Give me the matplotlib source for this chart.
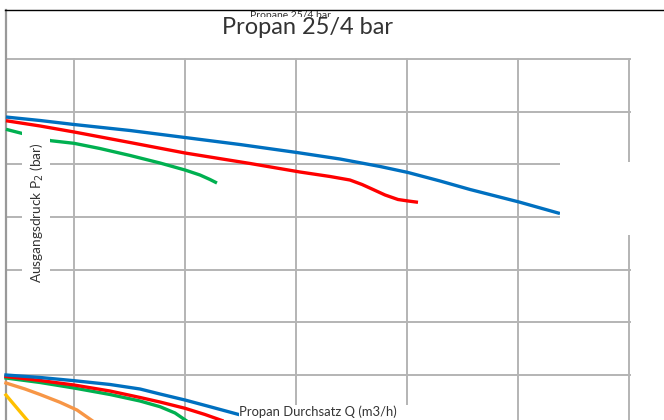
import matplotlib.pyplot as plt
from matplotlib.patches import Rectangle

# Propan 25/4 bar - Ausgangsdruck vs. Durchsatz
# upper curve group (Q in m3/h, P2 in bar)
q_blue = [0.387, 0.694, 1.0, 1.505, 2.0, 2.495, 3.009, 3.396, 3.757, 4.009,
          4.297, 4.568, 5.009, 5.378]
p_blue = [5.898, 5.832, 5.756, 5.642, 5.509, 5.376, 5.224, 5.101, 4.959, 4.845,
          4.684, 4.522, 4.285, 4.066]

q_red = [0.387, 0.694, 1.0, 1.505, 2.0, 2.586, 3.036, 3.306, 3.486, 3.595,
         3.685, 3.802, 3.919, 4.009, 4.099]
p_red = [5.828, 5.728, 5.614, 5.414, 5.215, 5.016, 4.854, 4.769, 4.702, 4.617,
         4.531, 4.418, 4.332, 4.304, 4.279]

q_green = [0.387, 0.613, 0.793, 1.0, 1.234, 1.505, 1.775, 2.0, 2.135, 2.225, 2.288]
p_green = [5.665, 5.543, 5.448, 5.399, 5.300, 5.168, 5.025, 4.892, 4.797, 4.712, 4.645]

# lower curve group
q_blue2 = [0.387, 0.694, 1.0, 1.324, 1.595, 1.775, 2.0, 2.225, 2.477]
p_blue2 = [1.0, 0.953, 0.892, 0.820, 0.734, 0.639, 0.525, 0.398, 0.254]

q_red2 = [0.387, 0.694, 1.0, 1.324, 1.595, 1.775, 2.0, 2.180, 2.333]
p_red2 = [0.972, 0.896, 0.810, 0.696, 0.573, 0.487, 0.368, 0.250, 0.136]

q_green2 = [0.387, 0.694, 1.0, 1.324, 1.595, 1.775, 1.910, 2.009]
p_green2 = [0.943, 0.858, 0.753, 0.630, 0.506, 0.398, 0.279, 0.136]

q_orange = [0.387, 0.559, 0.694, 0.874, 1.027, 1.162]
p_orange = [0.848, 0.734, 0.630, 0.482, 0.335, 0.136]

q_yellow = [0.387, 0.577]
p_yellow = [0.620, 0.146]

x_grid = [1, 2, 3, 4, 5, 6]
y_grid = [1, 2, 3, 4, 5, 6, 7]

title = "Propan 25/4 bar"
old_title = "Propane 25/4 bar"
xlabel = "Propan Durchsatz Q (m3/h)"
ylabel = "Ausgangsdruck P$_2$ (bar)"


# pixel -> data helpers (layout only)
def qx(px):
    return (px + 37) / 111.0


def py(pyv):
    return 1 + (375 - pyv) / 52.67


fig = plt.figure(figsize=(6.64, 4.2), dpi=100)
ax = fig.add_axes([0, 0, 1, 1])
ax.set_xlim(qx(0), qx(664))
ax.set_ylim(py(420), py(0))
ax.axis("off")

grid_c = "#b4b4b4"
for g in x_grid:
    ax.plot([g, g], [py(59), py(420)], color=grid_c, lw=1.4, zorder=1)
for g in y_grid:
    ax.plot([qx(6), qx(630)], [g, g], color=grid_c, lw=1.4, zorder=1)

# frame lines
ax.plot([qx(6), qx(6)], [py(10), py(420)], color="#999999", lw=1.6, zorder=2)
ax.plot([qx(5), qx(663)], [py(10), py(10)], color="black", lw=1.0, zorder=7)

# curves
lw = 2.4
ax.plot(q_blue, p_blue, color="#0070c0", lw=lw, zorder=3, solid_capstyle="butt")
ax.plot(q_red, p_red, color="#ff0000", lw=lw, zorder=3, solid_capstyle="butt")
ax.plot(q_green, p_green, color="#00b050", lw=lw, zorder=3, solid_capstyle="butt")
ax.plot(q_yellow, p_yellow, color="#ffc000", lw=lw, zorder=3)
ax.plot(q_orange, p_orange, color="#f79646", lw=lw, zorder=3)
ax.plot(q_green2, p_green2, color="#00b050", lw=lw, zorder=3)
ax.plot(q_red2, p_red2, color="#ff0000", lw=lw, zorder=3)
ax.plot(q_blue2, p_blue2, color="#0070c0", lw=lw, zorder=3)


# white covers
def cover(x0, y0, x1, y1, z=5):
    ax.add_patch(Rectangle((qx(x0), py(y1)), qx(x1) - qx(x0), py(y0) - py(y1),
                           facecolor="white", edgecolor="none", zorder=z))


cover(560, 162, 664, 235)
cover(239, 405, 412, 421)
cover(22, 131, 50, 292)
cover(212, 16.5, 402, 45)

# old title, mostly hidden
ax.text(qx(290), py(11), old_title, fontsize=7.5, color="#333333",
        ha="center", va="top", zorder=4, family="Lato")
ax.text(qx(308), py(28), title, fontsize=17, color="#333333",
        ha="center", va="center", zorder=6, family="Lato")
ax.text(qx(239), py(412), xlabel, fontsize=9.4, color="#333333",
        ha="left", va="center", zorder=6, family="Lato")
ax.text(qx(37), py(213), ylabel, fontsize=9.8, color="#333333", rotation=90,
        ha="center", va="center", zorder=6, family="Lato")

fig.savefig("out.png", dpi=100)
